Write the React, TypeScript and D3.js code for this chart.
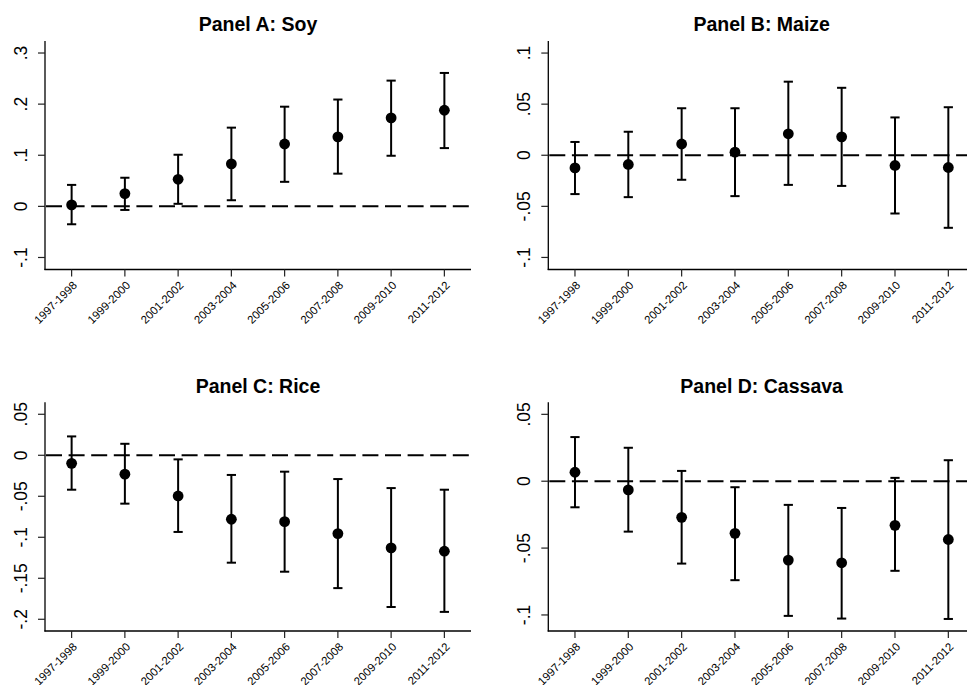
import React from "react";
import * as d3 from "d3";

const periods = ["1997-1998", "1999-2000", "2001-2002", "2003-2004", "2005-2006", "2007-2008", "2009-2010", "2011-2012"];

const soyEst = [0.003, 0.025, 0.053, 0.083, 0.122, 0.136, 0.173, 0.188];
const soyLo = [-0.035, -0.007, 0.005, 0.012, 0.048, 0.064, 0.099, 0.114];
const soyHi = [0.042, 0.056, 0.101, 0.154, 0.195, 0.209, 0.246, 0.261];
const soyTicks = [-0.1, 0, 0.1, 0.2, 0.3];
const soyTickLabels = ["-.1", "0", ".1", ".2", ".3"];

const maizeEst = [-0.0124, -0.009, 0.011, 0.003, 0.021, 0.018, -0.010, -0.012];
const maizeLo = [-0.038, -0.041, -0.024, -0.040, -0.029, -0.030, -0.057, -0.071];
const maizeHi = [0.013, 0.023, 0.046, 0.046, 0.072, 0.066, 0.037, 0.047];
const maizeTicks = [-0.1, -0.05, 0, 0.05, 0.1];
const maizeTickLabels = ["-.1", "-.05", "0", ".05", ".1"];

const riceEst = [-0.0098, -0.023, -0.0496, -0.078, -0.081, -0.0955, -0.113, -0.117];
const riceLo = [-0.042, -0.059, -0.0935, -0.131, -0.142, -0.162, -0.185, -0.191];
const riceHi = [0.023, 0.014, -0.005, -0.024, -0.020, -0.029, -0.040, -0.042];
const riceTicks = [-0.2, -0.15, -0.1, -0.05, 0, 0.05];
const riceTickLabels = ["-.2", "-.15", "-.1", "-.05", "0", ".05"];

const cassavaEst = [0.0067, -0.0065, -0.027, -0.039, -0.059, -0.061, -0.033, -0.0436];
const cassavaLo = [-0.0195, -0.0377, -0.0616, -0.074, -0.1007, -0.1027, -0.067, -0.103];
const cassavaHi = [0.033, 0.025, 0.0077, -0.0045, -0.0177, -0.020, 0.0025, 0.0157];
const cassavaTicks = [-0.1, -0.05, 0, 0.05];
const cassavaTickLabels = ["-.1", "-.05", "0", ".05"];

const FONT = "'Liberation Sans', Arial, Helvetica, sans-serif";

type PanelProps = {
  title: string;
  est: number[];
  lo: number[];
  hi: number[];
  ticks: number[];
  tickLabels: string[];
  yDomain: [number, number];
  left: number;
  right: number;
  top: number;
  bottom: number;
  titleY: number;
};

function Panel(p: PanelProps) {
  const x = d3.scaleLinear().domain([-0.5, periods.length - 0.5]).range([p.left, p.right]);
  const y = d3.scaleLinear().domain(p.yDomain).range([p.bottom, p.top]);
  const tickLen = 7;
  const cap = 4.6;
  return (
    <g>
      <text x={(p.left + p.right) / 2} y={p.titleY} textAnchor="middle" fontFamily={FONT} fontWeight="bold" fontSize={19.5} fill="#000">
        {p.title}
      </text>
      <line x1={p.left + 1} x2={p.right} y1={y(0)} y2={y(0)} stroke="#000" strokeWidth={2} strokeDasharray="16 6.6" />
      {p.est.map((v, i) => (
        <g key={i}>
          <line x1={x(i)} x2={x(i)} y1={y(p.lo[i])} y2={y(p.hi[i])} stroke="#000" strokeWidth={2} />
          <line x1={x(i) - cap} x2={x(i) + cap} y1={y(p.lo[i])} y2={y(p.lo[i])} stroke="#000" strokeWidth={2} />
          <line x1={x(i) - cap} x2={x(i) + cap} y1={y(p.hi[i])} y2={y(p.hi[i])} stroke="#000" strokeWidth={2} />
          <circle cx={x(i)} cy={y(v)} r={5.4} fill="#000" />
        </g>
      ))}
      <line x1={p.left} x2={p.left} y1={p.top} y2={p.bottom + 0.6} stroke="#000" strokeWidth={1.3} />
      {p.ticks.map((t, i) => (
        <g key={"yt" + i}>
          <line x1={p.left - tickLen} x2={p.left} y1={y(t)} y2={y(t)} stroke="#222" strokeWidth={1.2} />
          <text transform={`translate(${p.left - 18.3},${y(t)}) rotate(-90)`} textAnchor="middle" fontFamily={FONT} fontSize={17.5} fill="#000">
            {p.tickLabels[i]}
          </text>
        </g>
      ))}
      <line x1={p.left - 0.6} x2={p.right} y1={p.bottom} y2={p.bottom} stroke="#000" strokeWidth={1.3} />
      {periods.map((lab, i) => (
        <g key={"xt" + i}>
          <line x1={x(i)} x2={x(i)} y1={p.bottom} y2={p.bottom + tickLen} stroke="#222" strokeWidth={1.2} />
          <text transform={`translate(${x(i) + 6},${p.bottom + 16.5}) rotate(-45)`} textAnchor="end" fontFamily={FONT} fontSize={11.4} fill="#000">
            {lab}
          </text>
        </g>
      ))}
    </g>
  );
}

export default function App() {
  return (
    <svg width={967} height={685} style={{ position: "absolute", left: 0, top: 0, background: "#fff" }}>
      <rect x={0} y={0} width={967} height={685} fill="#fff" />
      <Panel title="Panel A: Soy" est={soyEst} lo={soyLo} hi={soyHi} ticks={soyTicks} tickLabels={soyTickLabels}
        yDomain={[-0.1235, 0.3235]} left={45} right={471} top={41} bottom={269.5} titleY={30.7} />
      <Panel title="Panel B: Maize" est={maizeEst} lo={maizeLo} hi={maizeHi} ticks={maizeTicks} tickLabels={maizeTickLabels}
        yDomain={[-0.1118, 0.1118]} left={548.3} right={975} top={41} bottom={269.5} titleY={30.7} />
      <Panel title="Panel C: Rice" est={riceEst} lo={riceLo} hi={riceHi} ticks={riceTicks} tickLabels={riceTickLabels}
        yDomain={[-0.2143, 0.0646]} left={45} right={471} top={402.3} bottom={631} titleY={392.7} />
      <Panel title="Panel D: Cassava" est={cassavaEst} lo={cassavaLo} hi={cassavaHi} ticks={cassavaTicks} tickLabels={cassavaTickLabels}
        yDomain={[-0.112, 0.059]} left={548.3} right={975} top={402.3} bottom={631} titleY={392.7} />
    </svg>
  );
}
